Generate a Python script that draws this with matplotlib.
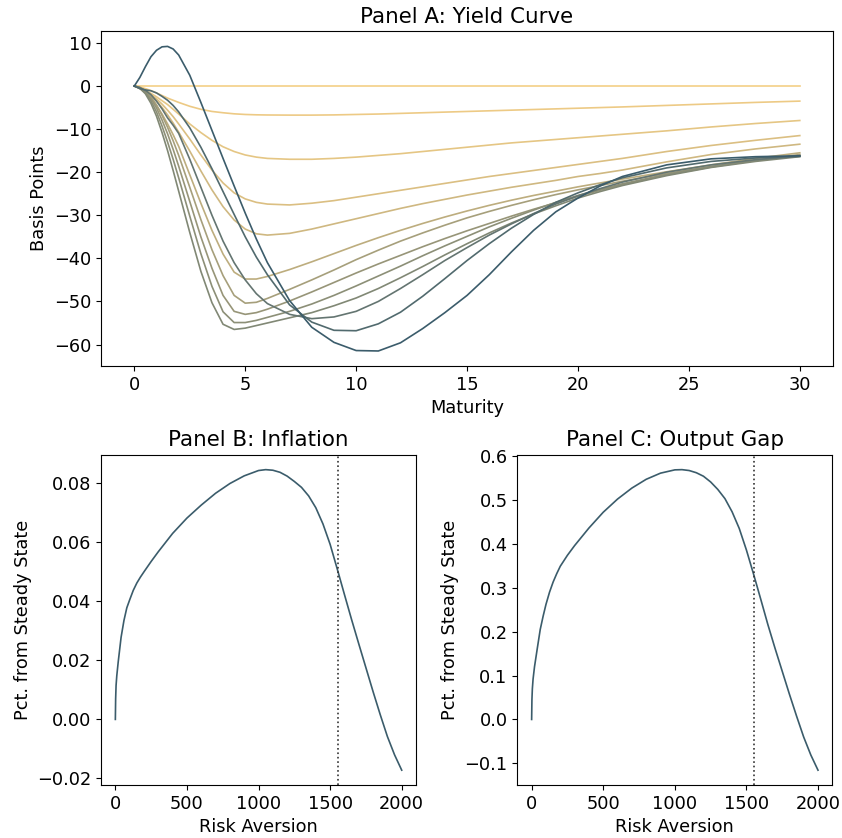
import numpy as np
import matplotlib
matplotlib.use("Agg")
import matplotlib.pyplot as plt
from matplotlib.colors import LinearSegmentedColormap

# maturity grid (years) shared by all yield-curve responses
maturity = [0, 0.25, 0.5, 0.75, 1, 1.25, 1.5, 1.75, 2, 2.5, 3, 3.5, 4, 4.5, 5, 5.5, 6,
            7, 8, 9, 10, 11, 12, 13, 14, 15, 16, 17, 18, 19, 20, 21, 22, 24, 26, 28, 30]

# yield curve responses in basis points, ordered from lowest to highest risk aversion
yc_01 = [0.0] * 37
yc_02 = [0, -0.25, -0.6, -1.05, -1.6, -2.2, -2.8, -3.3, -3.8, -4.7, -5.4, -5.9, -6.2, -6.45, -6.6, -6.68, -6.72,
         -6.75, -6.75, -6.7, -6.6, -6.5, -6.35, -6.2, -6.05, -5.9, -5.75, -5.6, -5.45, -5.3, -5.15, -5.0, -4.85,
         -4.5, -4.15, -3.8, -3.5]
yc_03 = [0, -0.4, -1.0, -1.7, -2.5, -3.4, -4.3, -5.4, -6.5, -8.8, -10.8, -12.6, -14.1, -15.2, -16.0, -16.5, -16.8,
         -17.0, -17.0, -16.8, -16.5, -16.1, -15.7, -15.2, -14.7, -14.2, -13.7, -13.2, -12.8, -12.4, -12.0, -11.6, -11.2,
         -10.4, -9.5, -8.7, -8.0]
yc_04 = [0, -0.5, -1.2, -2.0, -3.0, -4.2, -5.6, -7.1, -8.8, -12.3, -16.0, -19.5, -22.5, -24.8, -26.2, -27.0, -27.4,
         -27.6, -27.2, -26.6, -25.8, -25.0, -24.2, -23.4, -22.6, -21.8, -21.0, -20.3, -19.6, -18.9, -18.2, -17.5, -16.8,
         -15.2, -13.8, -12.6, -11.5]
yc_05 = [0, -0.5, -1.3, -2.3, -3.5, -5.0, -6.7, -8.6, -10.7, -15.1, -19.7, -24.1, -28.0, -31.1, -33.2, -34.3, -34.6,
         -34.2, -33.2, -32.0, -30.8, -29.6, -28.4, -27.3, -26.3, -25.3, -24.4, -23.5, -22.7, -21.9, -21.0, -20.3, -19.5,
         -17.6, -15.9, -14.6, -13.5]
yc_06 = [0, -0.6, -1.6, -2.9, -4.5, -6.5, -8.8, -11.3, -14.0, -20.6, -27.2, -33.5, -39.0, -43.2, -44.8, -44.8, -44.2,
         -42.6, -40.8, -38.9, -37.0, -35.2, -33.5, -31.9, -30.4, -29.0, -27.7, -26.5, -25.4, -24.4, -23.4, -22.5, -21.6,
         -19.9, -18.3, -16.8, -15.5]
yc_07 = [0, -0.3, -1.1, -2.5, -4.4, -6.8, -9.6, -12.7, -16.1, -23.5, -31.0, -38.0, -44.0, -48.6, -50.4, -50.2, -49.3,
         -47.2, -45.0, -42.7, -40.3, -38.1, -36.0, -34.1, -32.3, -30.6, -29.1, -27.7, -26.4, -25.2, -24.1, -23.1, -22.1,
         -20.3, -18.7, -17.2, -15.9]
yc_08 = [0, -0.35, -1.3, -2.9, -5.1, -7.9, -11.1, -14.7, -18.6, -26.8, -35.0, -42.3, -48.6, -52.3, -53.0, -52.6, -51.8,
         -49.9, -47.8, -45.6, -43.4, -41.3, -39.3, -37.3, -35.4, -33.6, -31.9, -30.2, -28.6, -27.1, -25.6, -24.2, -22.9,
         -20.6, -18.8, -17.3, -16.1]
yc_09 = [0, -0.4, -1.5, -3.4, -6.0, -9.3, -13.0, -17.0, -21.3, -30.2, -38.9, -46.5, -52.4, -54.9, -54.9, -54.4, -53.7,
         -52.3, -50.6, -48.6, -46.4, -44.1, -41.8, -39.4, -37.1, -34.9, -32.7, -30.7, -28.8, -27.0, -25.4, -24.0, -22.7,
         -20.5, -18.7, -17.3, -16.2]
yc_10 = [0, -0.5, -1.8, -4.0, -7.0, -10.8, -15.0, -19.6, -24.4, -34.0, -43.0, -50.3, -55.3, -56.5, -56.2, -55.6, -55.0,
         -53.8, -52.6, -51.0, -49.2, -47.0, -44.5, -41.9, -39.2, -36.6, -34.1, -31.8, -29.7, -27.8, -26.0, -24.5, -23.1,
         -20.8, -18.9, -17.5, -16.4]
yc_11 = [0, -0.4, -1.0, -2.0, -3.5, -5.3, -7.4, -9.1, -11.0, -17.0, -23.5, -30.0, -36.0, -41.0, -45.0, -48.2, -50.5,
         -53.0, -54.0, -53.6, -52.3, -50.0, -47.0, -43.8, -40.5, -37.5, -34.6, -32.0, -29.6, -27.4, -25.5, -23.8, -22.3,
         -20.0, -18.3, -17.1, -16.3]
yc_12 = [0, -0.6, -0.9, -1.1, -1.6, -2.4, -3.3, -4.5, -6.0, -9.7, -14.2, -19.2, -24.5, -29.8, -35.0, -39.7, -43.8,
         -50.8, -54.8, -56.7, -56.8, -55.2, -52.5, -48.8, -44.7, -40.5, -36.6, -33.0, -29.8, -27.0, -24.8, -22.9, -21.3,
         -19.0, -17.5, -16.7, -16.3]
yc_13 = [0, 2.0, 4.5, 6.8, 8.3, 9.1, 9.2, 8.6, 7.2, 2.5, -3.8, -10.3, -16.8, -23.2, -29.5, -35.5, -41.0,
         -49.8, -56.0, -59.5, -61.4, -61.5, -59.6, -56.3, -52.6, -48.6, -43.8, -38.5, -33.5, -29.2, -26.0, -23.2, -21.0,
         -18.3, -16.9, -16.4, -16.2]
curves = [yc_01, yc_02, yc_03, yc_04, yc_05, yc_06, yc_07, yc_08, yc_09, yc_10, yc_11, yc_12, yc_13]
shade = [0.0, 0.04, 0.08, 0.14, 0.2, 0.3, 0.42, 0.5, 0.56, 0.62, 0.78, 0.88, 1.0]

# steady state responses against risk aversion
risk_aversion = [0, 2, 5, 10, 20, 40, 60, 80, 100, 125, 150, 175, 200, 250, 300, 400, 500, 600, 700, 800,
                 900, 1000, 1050, 1100, 1150, 1200, 1250, 1300, 1350, 1400, 1450, 1500, 1550, 1600, 1650,
                 1700, 1750, 1800, 1850, 1900, 1950, 2000]
inflation = [0, 0.007, 0.0115, 0.0148, 0.0195, 0.0278, 0.0335, 0.0378, 0.0405, 0.0437, 0.0462, 0.0482, 0.05,
             0.0535, 0.0568, 0.063, 0.0682, 0.0726, 0.0766, 0.0799, 0.0825, 0.0843, 0.0846, 0.0844, 0.0837,
             0.0824, 0.0806, 0.0786, 0.0757, 0.0717, 0.0662, 0.0593, 0.0509, 0.0423, 0.0338, 0.0256, 0.0175,
             0.0094, 0.0016, -0.0058, -0.0120, -0.0172]
output_gap = [0, 0.045, 0.07, 0.092, 0.12, 0.163, 0.205, 0.235, 0.262, 0.29, 0.313, 0.332, 0.349, 0.374,
              0.396, 0.436, 0.472, 0.502, 0.527, 0.547, 0.561, 0.5685, 0.569, 0.567, 0.562, 0.554, 0.541,
              0.524, 0.503, 0.473, 0.435, 0.386, 0.331, 0.274, 0.216, 0.162, 0.11, 0.058, 0.008, -0.04,
              -0.081, -0.1155]
benchmark_ra = 1555

cmap = LinearSegmentedColormap.from_list("goldslate", ["#f4cf86", "#3b5c6b"])
dark = "#3b5c6b"

plt.rcParams['font.size'] = 12.8
fig = plt.figure(figsize=(8.42, 8.38), dpi=100)

axA = fig.add_axes([0.12, 0.563, 0.8694, 0.3998])
for ys, s in zip(curves, shade):
    axA.plot(maturity, ys, color=cmap(s), lw=1.2)
axA.set_title("Panel A: Yield Curve", fontsize=15.4)
axA.set_xlabel("Maturity")
axA.set_ylabel("Basis Points")

axB = fig.add_axes([0.12, 0.063, 0.3741, 0.3945])
axB.plot(risk_aversion, inflation, color=dark, lw=1.2)
axB.axvline(benchmark_ra, color="#333333", ls=":", lw=1.2)
axB.set_title("Panel B: Inflation", fontsize=15.4)
axB.set_xlabel("Risk Aversion")
axB.set_ylabel("Pct. from Steady State")
axB.set_xticks([0, 500, 1000, 1500, 2000])

axC = fig.add_axes([0.6144, 0.063, 0.3741, 0.3945])
axC.plot(risk_aversion, output_gap, color=dark, lw=1.2)
axC.axvline(benchmark_ra, color="#333333", ls=":", lw=1.2)
axC.set_title("Panel C: Output Gap", fontsize=15.4)
axC.set_xlabel("Risk Aversion")
axC.set_ylabel("Pct. from Steady State")
axC.set_xticks([0, 500, 1000, 1500, 2000])

fig.savefig("out.png", dpi=100)
